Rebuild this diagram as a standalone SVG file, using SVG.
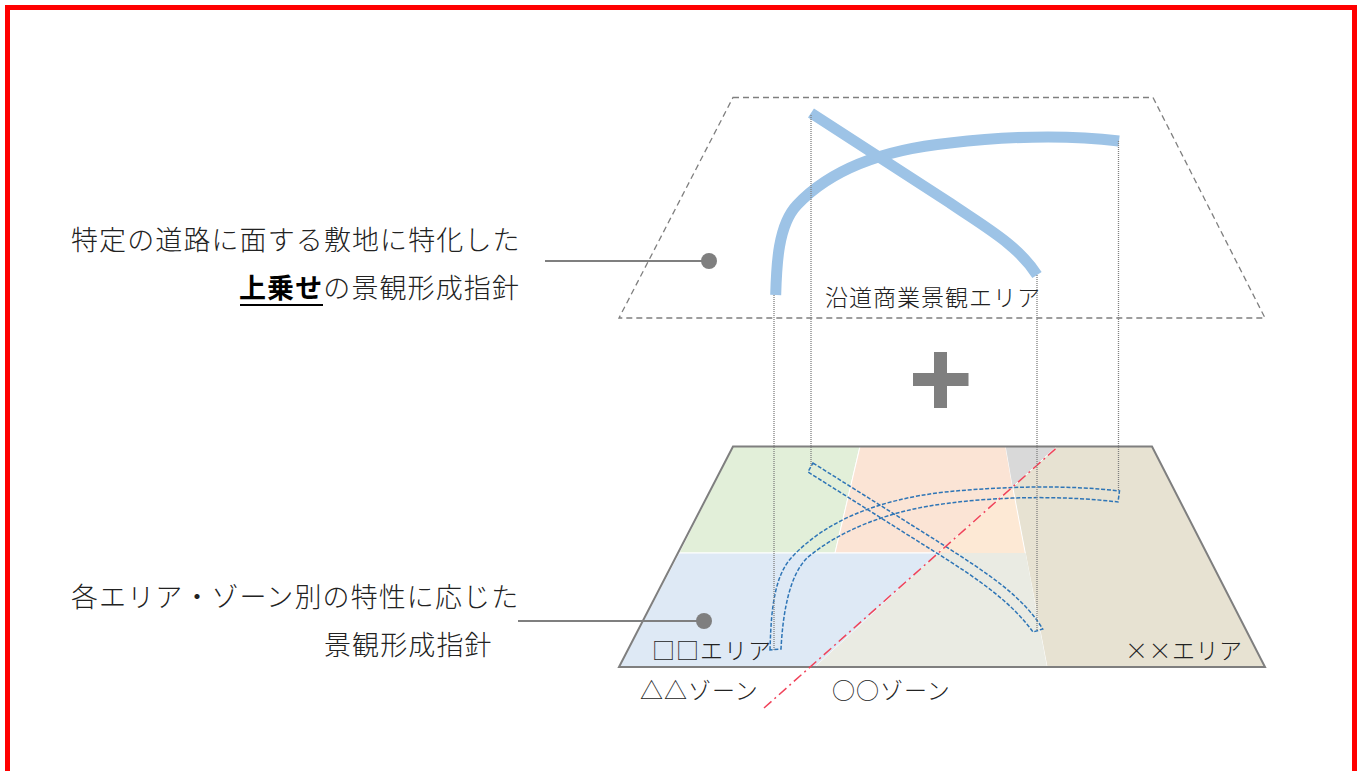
<svg xmlns="http://www.w3.org/2000/svg" width="1364" height="771" viewBox="0 0 1364 771">
<style>
text{font-family:"Noto Sans CJK JP","Noto Sans CJK SC",sans-serif;fill:#222}
.lead{font-size:27px;letter-spacing:1.1px;font-weight:300}
.lab{font-size:23px;letter-spacing:1px;font-weight:300}
.zone{stroke:#fff;stroke-width:1}
.road{fill:none;stroke:#2E75B6;stroke-width:1.500;stroke-dasharray:4 1.800}
.thick{fill:none;stroke:#9DC3E6;stroke-width:11}
.drop{stroke:#7f7f7f;stroke-width:1.300;stroke-dasharray:1 1;fill:none}
.leader{stroke:#7f7f7f;stroke-width:2;fill:none}
</style>
<rect x="7.500" y="7.500" width="1347" height="800" fill="#fff" stroke="#f00" stroke-width="5"/>
<g id="upper-area">
<path d="M733,97.500H1153L1265,318H619Z" fill="none" stroke="#7f7f7f" stroke-width="1.300" stroke-dasharray="6 4"/>
<path class="thick" d="M775.700,295C776.500,265 778,225 797,205C830,170 880,150 950,143C1010,136 1070,135 1119,141"/>
<path class="thick" d="M811,113L950,203C985,227 1018,245 1037,275"/>
<text class="lab" x="825" y="306">沿道商業景観エリア</text>
</g>
<g id="plus"><path d="M934,352h13v21h21.500v13h-21.500v22h-13v-22h-21v-13h21z" fill="#7f7f7f"/></g>
<g id="lower-area">
<path class="zone" d="M733,446.500H860L835,553H679Z" fill="#E2EFD9"/>
<path class="zone" d="M860,446.500H1005.700L1012.700,487L938,553H835Z" fill="#FBE4D5"/>
<path d="M1012.700,487L1025.600,553H938Z" fill="#FDE9D5"/>
<path d="M1005.700,446.500H1056.700L1012.700,487Z" fill="#D9D9D9"/>
<path class="zone" d="M1056.700,446.500H1152L1265,667H1047L1012.700,487Z" fill="#E7E2D2"/>
<path class="zone" d="M679,553H938L815,667H619Z" fill="#DEE9F5"/>
<path d="M938,553H1025.600L1047,667H815Z" fill="#EAEBE3"/>
<path d="M733,446.500H1152L1265,667H619Z" fill="none" stroke="#7f7f7f" stroke-width="2"/>
<path class="road" d="M770,650C771,620 772,578 792,557C825,522 875,500 945,492C1005,486 1070,485 1119.500,491L1118,502C1070,496 1005,496 950,503C890,510 840,530 807,558C790,575 783,610 781,649Z"/>
<path class="road" d="M813,463L945,546C985,572 1022,595 1042.700,629L1033,632C1012,603 980,580 935,552L808,472Z"/>
<text class="lab" x="652" y="659">□□エリア</text>
<text class="lab" x="1125" y="659" textLength="118">××エリア</text>
<text class="lab" x="640" y="699">△△ゾーン</text>
<text class="lab" x="832" y="699">○○ゾーン</text>
</g>
<g id="connectors">
<path d="M764,708L1057,447.500" fill="none" stroke="#F0435A" stroke-width="1.500" stroke-dasharray="10 4 2 4"/>
<path class="drop" d="M774,295V650M811,115V467M1037,275V630M1118.500,141V490"/>
<path class="leader" d="M545,261H709M518,621H704"/>
<circle cx="709" cy="261" r="8" fill="#7f7f7f"/>
<circle cx="704" cy="621" r="8" fill="#7f7f7f"/>
</g>
<g id="labels">
<text class="lead" x="71" y="250">特定の道路に面する敷地に特化した</text>
<text class="lead" x="239" y="298"><tspan font-weight="700" fill="#000">上乗せ</tspan>の景観形成指針</text>
<path d="M240,305H323" stroke="#000" stroke-width="2"/>
<text class="lead" x="71" y="607">各エリア・ゾーン別の特性に応じた</text>
<text class="lead" x="324" y="655">景観形成指針</text>
</g>
</svg>
